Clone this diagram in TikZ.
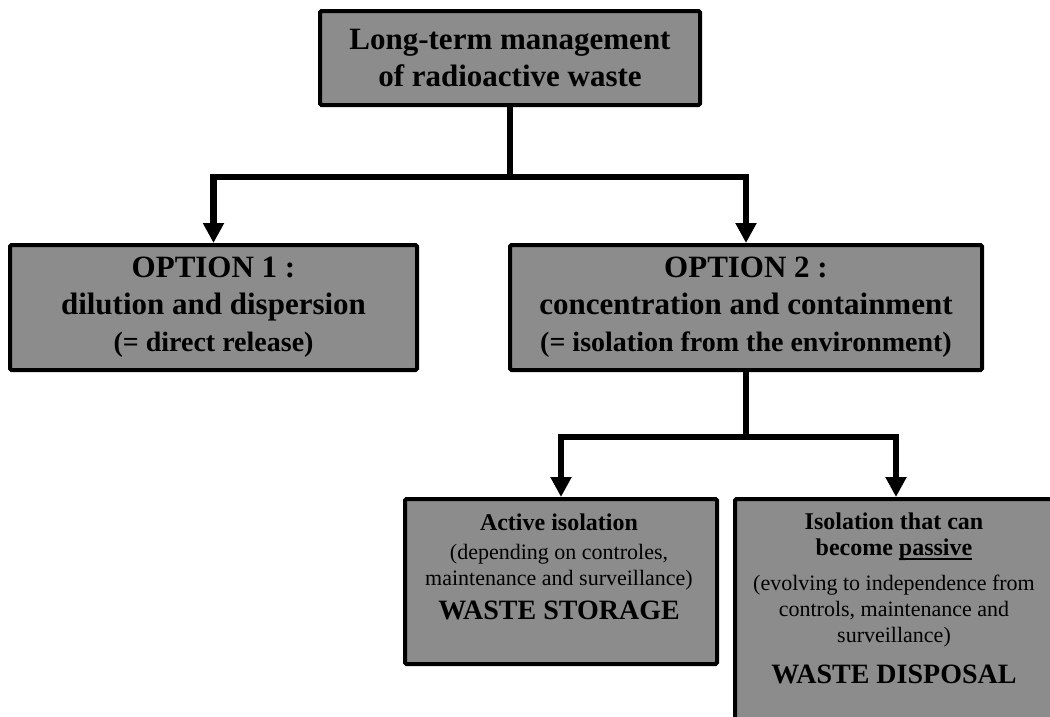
\documentclass[tikz,border=0pt]{standalone}
\usepackage{fontspec}
\setmainfont{Liberation Serif}
\usetikzlibrary{arrows.meta}
\definecolor{boxgray}{gray}{0.55}
% font switches for the box texts
\newcommand\headsize{\bfseries\fontsize{31}{37}\selectfont}
\newcommand\notesize{\bfseries\fontsize{28}{35}\selectfont}
\newcommand\smallbold{\bfseries\fontsize{24}{26}\selectfont}
\newcommand\smallreg{\mdseries\fontsize{22}{26}\selectfont}
\newcommand\bigcaps{\bfseries\fontsize{28}{26}\selectfont}
% thicker underline for the emphasised word
\newcommand\thickul[1]{\setbox0\hbox{#1}\rlap{\rule[-4pt]{\wd0}{2pt}}\box0}

\begin{document}
\begin{tikzpicture}[x=1pt,y=-1pt,
  box/.style={draw=black, line width=4pt, fill=boxgray, rounded corners=1.5pt,
              inner sep=0pt, align=center, anchor=north west},
  boxtext/.style={align=center, inner sep=0pt, anchor=north,
                  font=\fontsize{22}{26}\selectfont},
  conn/.style={line width=6.5pt, line cap=butt},
  arr/.style={conn, -{Triangle[width=20pt,length=20pt]}},
]
\useasboundingbox (0,0) rectangle (1050,716);
\clip (0,0) rectangle (1050,716);

% boxes
\node[box, font=\headsize, minimum width=380pt, minimum height=94pt] (top) at (318,9)
  {Long-term management\\of radioactive waste};
\node[box, font=\headsize, minimum width=407pt, minimum height=125pt] (opt1) at (8,243)
  {OPTION 1 :\\dilution and dispersion\\{\notesize (= direct release)}};
\node[box, font=\headsize, minimum width=472pt, minimum height=125pt] (opt2) at (508,243)
  {OPTION 2 :\\concentration and containment\\{\notesize (= isolation from the environment)}};
\node[box, minimum width=312pt, minimum height=165pt] (stor) at (403,497) {};
\node[box, minimum width=322pt, minimum height=240pt] (disp) at (733,497) {};

% texts of the two lower boxes
\node[boxtext] (stortxt) at (559,514)
  {{\smallbold Active isolation}\\[3pt]
   {\smallreg (depending on controles,}\\
   {\smallreg maintenance and surveillance)}\\[8pt]
   {\bigcaps WASTE STORAGE}};
\node[boxtext] (disptxt) at (894,513)
  {{\smallbold Isolation that can}\\
   {\smallbold become \thickul{passive}}\\[9pt]
   {\smallreg (evolving to independence from}\\
   {\smallreg controls, maintenance and}\\
   {\smallreg surveillance)}\\[15pt]
   {\bigcaps WASTE DISPOSAL}};

% connectors
\path (top.south) ++(0,70) coordinate (split1);
\draw[conn] (top.south) -- (split1);
\draw[arr] (split1) -| (opt1.north);
\draw[arr] (split1) -| (opt2.north);

\path (opt2.south) ++(0,65) coordinate (split2);
\draw[conn] (opt2.south) -- (split2);
\draw[arr] (split2) -| (stor.north);
\draw[arr] (split2) -| (disp.north);
\end{tikzpicture}
\end{document}
